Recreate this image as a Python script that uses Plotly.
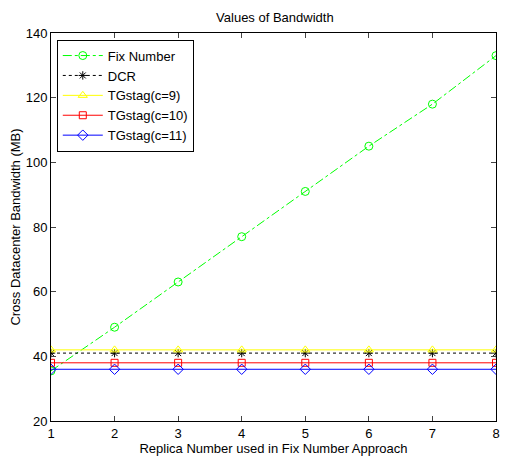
import plotly.graph_objects as go

x = [1, 2, 3, 4, 5, 6, 7, 8]
fix_number = [35.5, 49, 63, 77, 91, 105, 118, 133]
dcr = [41, 41, 41, 41, 41, 41, 41, 41]
tg9 = [42, 42, 42, 42, 42, 42, 42, 42]
tg10 = [38, 38, 38, 38, 38, 38, 38, 38]
tg11 = [36, 36, 36, 36, 36, 36, 36, 36]

series = [
    ("Fix Number", fix_number, "#00ff00", "dashdot", "circle-open", 8),
    ("DCR", dcr, "#000000", "dot", "asterisk-open", 7),
    ("TGstag(c=9)", tg9, "#ffff00", "solid", "triangle-up-open", 8),
    ("TGstag(c=10)", tg10, "#ff0000", "solid", "square-open", 7),
    ("TGstag(c=11)", tg11, "#0000ff", "solid", "diamond-open", 8),
]

fig = go.Figure()
for name, ys, col, dash, sym, ms in series:
    fig.add_trace(go.Scatter(
        x=x, y=ys, name=name, mode="lines+markers",
        line=dict(color=col, width=1, dash=dash),
        marker=dict(symbol=sym, size=ms, color=col, line=dict(color=col, width=1)),
    ))

font = "Liberation Sans, Arial, sans-serif"
fig.update_layout(
    width=509, height=462,
    margin=dict(l=51, r=9, t=33, b=41),
    paper_bgcolor="white", plot_bgcolor="white",
    font=dict(family=font, size=13, color="black"),
    title=dict(text="Values of Bandwidth", x=0.54, xanchor="center", y=0.962, yanchor="middle",
               font=dict(size=13, family=font)),
    showlegend=True,
    legend=dict(x=0.013, y=0.983, xanchor="left", yanchor="top",
                bordercolor="black", borderwidth=1, bgcolor="white",
                font=dict(size=13, family=font), tracegroupgap=0, itemwidth=40),
    xaxis=dict(range=[1, 8], tickvals=x, ticks="inside", ticklen=5,
               showline=True, linecolor="black", linewidth=1, mirror="ticks",
               showgrid=False, zeroline=False,
               tickfont=dict(size=13),
               title=dict(text="Replica Number used in Fix Number Approach", standoff=2,
                          font=dict(size=13))),
    yaxis=dict(range=[20, 140], tickvals=[20, 40, 60, 80, 100, 120, 140], ticks="inside", ticklen=5,
               showline=True, linecolor="black", linewidth=1, mirror="ticks",
               showgrid=False, zeroline=False,
               tickfont=dict(size=13),
               title=dict(text="Cross Datacenter Bandwidth (MB)", standoff=2,
                          font=dict(size=13))),
)
fig.write_html("out.html")
